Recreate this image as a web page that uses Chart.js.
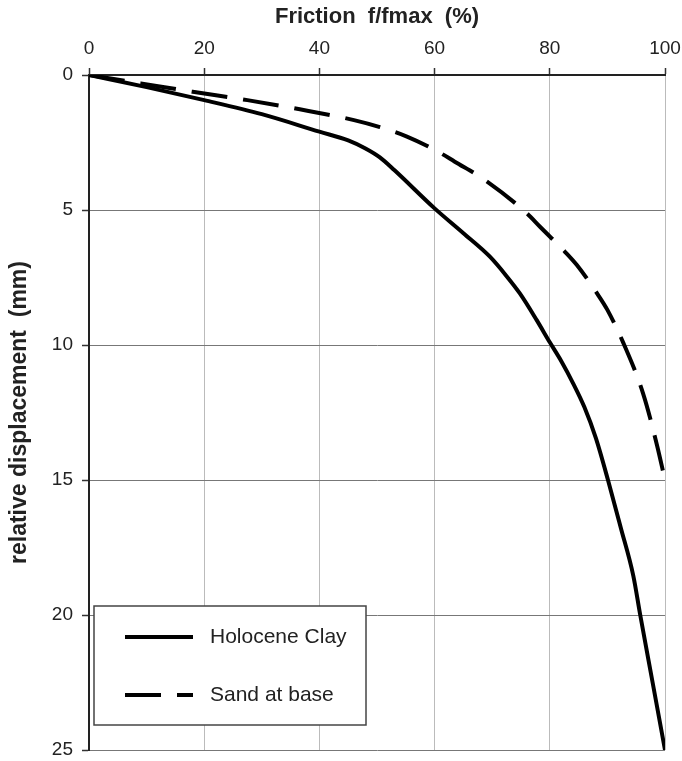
<!DOCTYPE html>
<html>
<head>
<meta charset="utf-8">
<script src="https://cdn.jsdelivr.net/npm/chart.js@4/dist/chart.umd.min.js"></script>
<style>
html,body{margin:0;padding:0;background:#fff;}
#wrap{width:682px;height:761px;position:relative;}
</style>
</head>
<body>
<div id="wrap"><canvas id="c" width="682" height="761"></canvas></div>
<script>
// Data
const seriesNames = ["Holocene Clay", "Sand at base"];
const clayFriction = [0, 10, 20, 30, 40, 45, 48, 50.5, 53, 60, 65, 69.6, 72.5, 74.8, 77.7, 80, 82, 84, 86, 88, 90.1, 92.3, 94.5, 95.7, 97.85, 100];
const clayDisp     = [0, 0.45, 0.93, 1.45, 2.1, 2.42, 2.72, 3.05, 3.52, 4.94, 5.86, 6.73, 7.45, 8.09, 9.07, 9.9, 10.6, 11.4, 12.3, 13.45, 15, 16.75, 18.55, 20, 22.5, 25];
const sandFriction = [0, 9, 18, 27.5, 36.6, 46, 50.5, 55.2, 60.6, 63.5, 68.75, 76, 78.3, 82.6, 84.7, 88.4, 90, 92.8, 96.2, 98.6, 100];
const sandDisp     = [0, 0.31, 0.62, 0.93, 1.27, 1.67, 1.93, 2.28, 2.84, 3.21, 3.89, 5.12, 5.62, 6.54, 7.04, 8.15, 8.7, 9.94, 11.8, 13.7, 15];
const xTicks = [0, 20, 40, 60, 80, 100];
const yTicks = [0, 5, 10, 15, 20, 25];
const xTitle = "Friction  f/fmax  (%)";
const yTitle = "relative displacement  (mm)";

const toPts = (xs, ys) => xs.map((x, i) => ({x: x, y: ys[i]}));
const FONT = "'Liberation Sans', Arial, sans-serif";

const legendPlugin = {
  id: 'boxLegend',
  afterDraw(chart) {
    const ca = chart.chartArea;
    const ctx = chart.ctx;
    const x0 = ca.left + 5, y0 = ca.top + 531, w = 272, h = 119;
    ctx.save();
    ctx.fillStyle = '#fff';
    ctx.fillRect(x0, y0, w, h);
    ctx.strokeStyle = '#444';
    ctx.lineWidth = 1.5;
    ctx.strokeRect(x0, y0, w, h);
    const items = chart.data.datasets;
    const rows = [y0 + 31, y0 + 89];
    items.forEach((ds, i) => {
      ctx.beginPath();
      ctx.strokeStyle = '#000';
      ctx.lineWidth = 4;
      ctx.setLineDash(ds.borderDash || []);
      ctx.moveTo(x0 + 31, rows[i]);
      ctx.lineTo(x0 + 99, rows[i]);
      ctx.stroke();
      ctx.setLineDash([]);
      ctx.fillStyle = '#222';
      ctx.font = "21px " + FONT;
      ctx.textBaseline = 'middle';
      ctx.textAlign = 'left';
      ctx.fillText(ds.label, x0 + 116, rows[i]);
    });
    ctx.restore();
  }
};

new Chart(document.getElementById('c'), {
  type: 'scatter',
  data: {
    datasets: [
      {
        label: seriesNames[0],
        data: toPts(clayFriction, clayDisp),
        showLine: true,
        borderColor: '#000',
        borderWidth: 4,
        pointRadius: 0,
        cubicInterpolationMode: 'monotone'
      },
      {
        label: seriesNames[1],
        data: toPts(sandFriction, sandDisp),
        showLine: true,
        borderColor: '#000',
        borderWidth: 4,
        borderDash: [36, 16],
        pointRadius: 0,
        cubicInterpolationMode: 'monotone'
      }
    ]
  },
  options: {
    responsive: false,
    animation: false,
    devicePixelRatio: 1,
    layout: { padding: { left: 0, top: 0, right: 17, bottom: 11 } },
    plugins: {
      legend: { display: false },
      tooltip: { enabled: false }
    },
    scales: {
      x: {
        type: 'linear',
        position: 'top',
        min: 0, max: 100,
        afterBuildTicks(scale) { scale.ticks = xTicks.map(v => ({value: v})); },
        afterFit(scale) { scale.height = 75; scale.paddingLeft = 0; scale.paddingRight = 0; },
        ticks: { color: '#222', font: { size: 19, family: FONT }, padding: 8 },
        grid: { color: '#bbb', lineWidth: 1, tickLength: 7, tickColor: '#333', tickWidth: 1.5 },
        border: { color: '#222', width: 2 },
        title: { display: true, text: xTitle, color: '#222', font: { size: 22, weight: 'bold', family: FONT }, padding: { top: 4, bottom: 0 } }
      },
      y: {
        type: 'linear',
        position: 'left',
        reverse: true,
        min: 0, max: 25,
        afterBuildTicks(scale) { scale.ticks = yTicks.map(v => ({value: v})); },
        afterFit(scale) { scale.width = 89; scale.paddingTop = 0; scale.paddingBottom = 0; },
        ticks: { color: '#222', font: { size: 19, family: FONT }, padding: 9 },
        grid: { color: '#777', lineWidth: 1, tickLength: 7, tickColor: '#333', tickWidth: 1.5 },
        border: { color: '#222', width: 2 },
        title: { display: true, text: yTitle, color: '#222', font: { size: 23, weight: 'bold', family: FONT }, padding: { top: 6, bottom: 0 } }
      }
    }
  },
  plugins: [legendPlugin]
});
</script>
</body>
</html>
